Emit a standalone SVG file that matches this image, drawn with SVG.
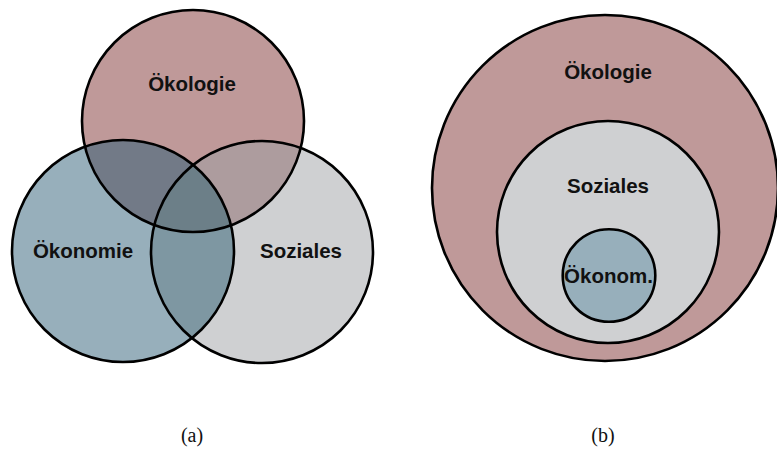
<svg xmlns="http://www.w3.org/2000/svg" width="777" height="451" viewBox="0 0 777 451">
<style>
.lbl{font-family:"Liberation Sans",Arial,sans-serif;font-weight:bold;font-size:20.5px;fill:#111;text-anchor:middle}
.cap{font-family:"Liberation Serif","Times New Roman",serif;font-size:20px;fill:#111;text-anchor:middle}
.ol{fill:none;stroke:#000;stroke-width:2.6}
.eco{fill:#BF9999}
.eon{fill:#97AFBB}
.soz{fill:#CFD0D2}
</style>
<defs>
<clipPath id="cEco"><circle cx="193" cy="121" r="111"/></clipPath>
<clipPath id="cEon"><circle cx="123" cy="251" r="111"/></clipPath>
<clipPath id="cSoz"><circle cx="262" cy="252" r="111"/></clipPath>
</defs>
<rect width="777" height="451" fill="#fff"/>

<!-- (a) Venn -->
<g id="a-oekologie"><circle class="eco" cx="193" cy="121" r="111"/></g>
<g id="a-oekonomie"><circle class="eon" cx="123" cy="251" r="111"/></g>
<g id="a-soziales"><circle class="soz" cx="262" cy="252" r="111"/></g>
<g id="a-overlaps">
<circle cx="123" cy="251" r="111" fill="#727A87" clip-path="url(#cEco)"/>
<circle cx="262" cy="252" r="111" fill="#AD9C9E" clip-path="url(#cEco)"/>
<circle cx="262" cy="252" r="111" fill="#7E97A2" clip-path="url(#cEon)"/>
<g clip-path="url(#cEco)"><circle cx="262" cy="252" r="111" fill="#6C7F88" clip-path="url(#cEon)"/></g>
</g>
<g id="a-outlines">
<circle class="ol" cx="193" cy="121" r="111"/>
<circle class="ol" cx="123" cy="251" r="111"/>
<circle class="ol" cx="262" cy="252" r="111"/>
</g>
<g id="a-labels">
<text class="lbl" x="192" y="91">Ökologie</text>
<text class="lbl" x="83" y="258">Ökonomie</text>
<text class="lbl" x="301" y="258">Soziales</text>
</g>

<!-- (b) nested -->
<g id="b-oekologie">
<circle class="eco ol" cx="605" cy="188" r="173" style="fill:#BF9999"/>
<text class="lbl" x="608" y="79">Ökologie</text>
</g>
<g id="b-soziales">
<circle class="ol" cx="608" cy="232" r="111" style="fill:#CFD0D2"/>
<text class="lbl" x="608" y="193">Soziales</text>
</g>
<g id="b-oekonomie">
<circle class="ol" cx="609" cy="275.5" r="46.3" style="fill:#97AFBB"/>
<text class="lbl" x="608.5" y="283">Ökonom.</text>
</g>

<text class="cap" x="192" y="442">(a)</text>
<text class="cap" x="603" y="442">(b)</text>
</svg>
